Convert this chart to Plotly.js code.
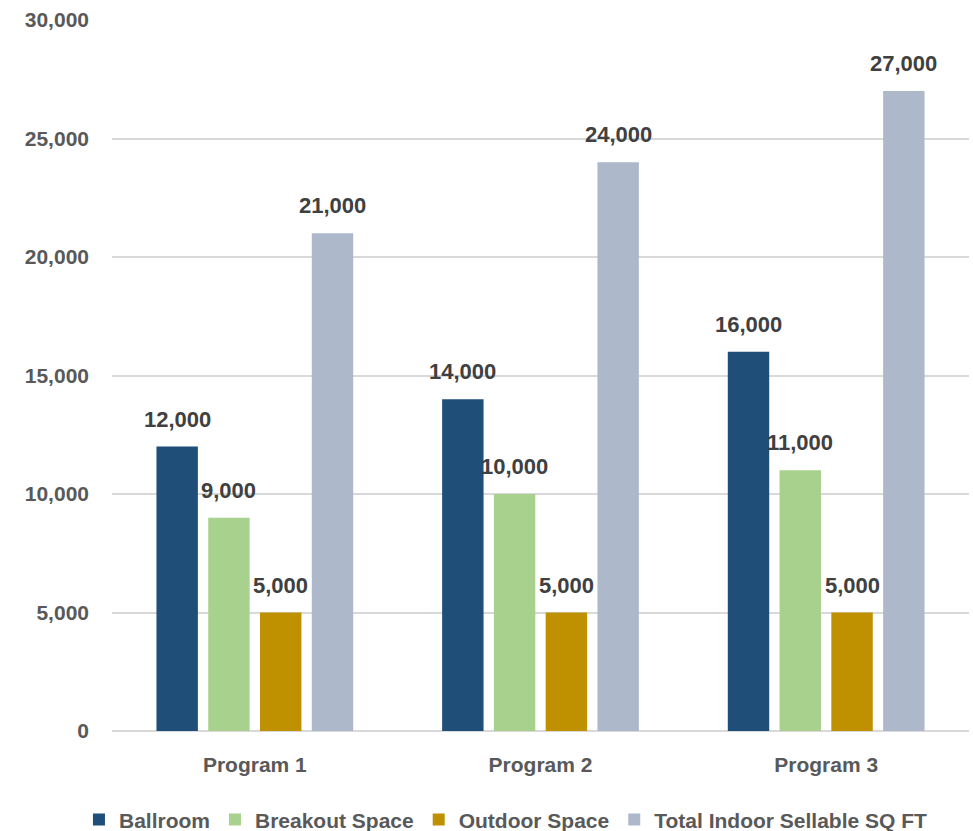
<!DOCTYPE html>
<html><head><meta charset="utf-8">
<script src="https://cdn.plot.ly/plotly-3.0.1.min.js"></script>
<style>html,body{margin:0;padding:0;background:#fff}#chart{width:973px;height:831px}</style>
</head><body><div id="chart"></div>
<script>
const categories = ["Program 1", "Program 2", "Program 3"];
const seriesNames = ["Ballroom", "Breakout Space", "Outdoor Space", "Total Indoor Sellable SQ FT"];
const ballroom = [12000, 14000, 16000];
const breakout = [9000, 10000, 11000];
const outdoor = [5000, 5000, 5000];
const totalIndoor = [21000, 24000, 27000];
const colors = ["#1F4E79", "#A9D18E", "#BF9000", "#ADB9CA"];
const yTicks = [0, 5000, 10000, 15000, 20000, 25000, 30000];

const FONT = "'Liberation Sans', Arial, sans-serif";
const FS = 21;
const bargap = 0.275;
const series = [ballroom, breakout, outdoor, totalIndoor];
const traces = series.map((vals, k) => ({
  type: "bar", name: seriesNames[k], x: categories, y: vals,
  marker: {color: colors[k], line: {width: 0}},
  hoverinfo: "x+y+name"
}));

const slot = (1 - bargap) / series.length;
const annotations = [];
series.forEach((vals, k) => {
  vals.forEach((v, i) => {
    annotations.push({
      x: i + (k - (series.length - 1) / 2) * slot, y: v, xref: "x", yref: "y",
      text: v.toLocaleString("en-US"), showarrow: false, yanchor: "bottom",
      yshift: 13, font: {family: FONT, size: FS + 1, color: "#404040", weight: "bold"}
    });
  });
});

const layout = {
  width: 973, height: 831,
  margin: {l: 112, r: 4, t: 20, b: 100, autoexpand: false},
  paper_bgcolor: "#fff", plot_bgcolor: "#fff",
  barmode: "group", bargap: bargap, bargroupgap: 0.2,
  font: {family: FONT, size: FS, color: "#595959", weight: "bold"},
  xaxis: {type: "category", range: [-0.5, 2.5], showgrid: false, showline: false, ticks: "", zeroline: false,
          tickfont: {family: FONT, size: FS, color: "#595959", weight: "bold"}, ticklabelstandoff: 19},
  yaxis: {range: [0, 30000], tickvals: yTicks, ticktext: yTicks.map(v => v.toLocaleString("en-US")),
          showgrid: true, gridcolor: "#D9D9D9", gridwidth: 2, zeroline: true, zerolinecolor: "#D9D9D9", zerolinewidth: 2,
          showline: false, ticks: "", ticklabelstandoff: 22,
          tickfont: {family: FONT, size: FS, color: "#595959", weight: "bold"}},
  showlegend: true,
  legend: {orientation: "h", x: 0.52, xanchor: "center", xref: "container", y: -0.125, yanchor: "middle",
           font: {family: FONT, size: FS, color: "#595959", weight: "bold"}, traceorder: "normal"},
  annotations: annotations
};

Plotly.newPlot("chart", traces, layout, {displayModeBar: false, staticPlot: true});
</script></body></html>
